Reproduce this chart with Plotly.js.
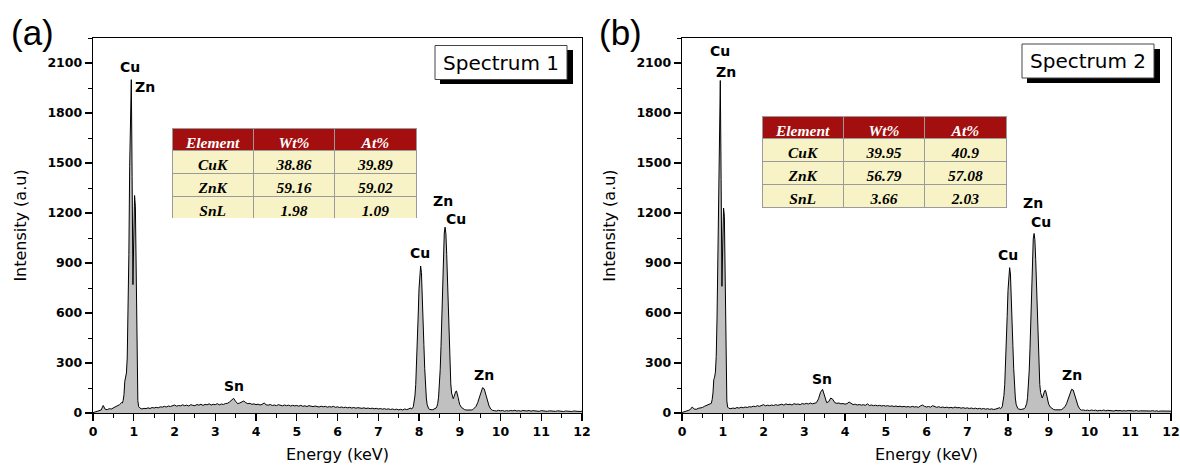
<!DOCTYPE html>
<html><head><meta charset="utf-8">
<script src="https://cdn.plot.ly/plotly-3.0.1.min.js"></script>
<style>html,body{margin:0;padding:0;background:#fff}#chart{width:1180px;height:468px}</style>
</head><body><div id="chart"></div>
<script>
// Energy channels (keV)
const energy = [
0,0.05,0.1,0.15,0.2,0.25,0.3,0.35,0.4,0.45,0.5,0.55,0.6,0.65,0.7,
0.72,0.74,0.76,0.78,0.8,0.82,0.84,0.86,0.88,0.9,0.92,0.94,0.96,0.98,1,1.02,1.04,1.06,1.08,1.1,1.12,
1.15,1.2,1.25,1.3,1.35,1.4,1.45,1.5,1.55,1.6,
1.65,1.7,1.75,1.8,1.85,1.9,1.95,2,2.05,2.1,
2.15,2.2,2.25,2.3,2.35,2.4,2.45,2.5,2.55,2.6,
2.65,2.7,2.75,2.8,2.85,2.9,2.95,3,3.05,3.1,
3.15,3.2,3.25,3.3,3.35,3.4,3.45,3.5,3.55,3.6,
3.65,3.7,3.75,3.8,3.85,3.9,3.95,4,4.05,4.1,
4.15,4.2,4.25,4.3,4.35,4.4,4.45,4.5,4.55,4.6,
4.65,4.7,4.75,4.8,4.85,4.9,4.95,5,5.05,5.1,
5.15,5.2,5.25,5.3,5.35,5.4,5.45,5.5,5.55,5.6,
5.65,5.7,5.75,5.8,5.85,5.9,5.95,6,6.05,6.1,
6.15,6.2,6.25,6.3,6.35,6.4,6.45,6.5,6.55,6.6,
6.65,6.7,6.75,6.8,6.85,6.9,6.95,7,7.05,7.1,
7.15,7.2,7.25,7.3,7.35,7.4,7.45,7.5,7.55,7.6,
7.65,7.7,7.75,7.8,
7.82,7.84,7.86,7.88,7.9,7.92,7.94,7.96,7.98,8,
8.02,8.04,8.06,8.08,8.1,8.12,8.14,8.16,8.18,8.2,
8.22,8.24,8.26,8.28,8.3,8.32,8.34,8.36,8.38,8.4,
8.42,8.44,8.46,8.48,8.5,8.52,8.54,8.56,8.58,8.6,
8.62,8.64,8.66,8.68,8.7,8.72,8.74,8.76,8.78,8.8,
8.82,8.84,8.86,8.88,8.9,8.92,8.94,8.96,8.98,9,
9.04,9.08,9.12,9.16,9.2,9.24,9.28,9.32,9.36,9.4,9.44,9.48,9.52,9.56,9.6,9.64,9.68,9.72,9.76,9.8,
9.85,9.9,9.95,
10,10.05,10.1,10.15,10.2,10.25,10.3,10.35,10.4,10.45,
10.5,10.55,10.6,10.65,10.7,10.75,10.8,10.85,10.9,10.95,
11,11.05,11.1,11.15,11.2,11.25,11.3,11.35,11.4,11.45,
11.5,11.55,11.6,11.65,11.7,11.75,11.8,11.85,11.9,11.95,
12
];

// Spectrum 1 intensities (a.u)
const spectrum1 = [
2,5,10,14,18,45,22,20,26,24,30,38,44,50,62,
60,75,110,190,212,240,330,560,950,1480,1880,2000,1420,770,1050,1305,1240,720,260,75,38,
30,24,28,26,31,27,33,30,34,31,
37,35,40,36,42,39,44,48,41,45,
43,49,44,47,42,50,46,44,51,47,
53,45,52,49,55,48,52,50,56,49,
54,51,57,58,66,80,88,70,56,60,
68,72,62,56,58,52,55,50,53,48,
52,60,49,47,51,45,48,44,50,46,
43,48,44,47,42,46,43,45,41,46,
40,43,39,44,40,38,42,39,36,41,
37,40,35,38,36,40,34,37,33,36,
32,35,31,34,30,33,29,32,30,28,
31,27,30,26,29,25,28,24,27,23,
26,22,25,21,24,20,23,19,22,18,
24,20,25,30,
24,28,38,60,102,172,280,423,588,745,
858,882,842,730,575,410,268,160,90,50,
32,25,22,20,21,19,20,22,22,24,
30,40,58,95,160,260,400,580,775,955,
1080,1115,1075,950,770,580,405,265,175,120,
92,86,98,118,129,132,118,94,70,50,
34,24,20,18,17,16,18,20,28,40,62,95,132,152,145,112,72,42,24,16,
14,12,16,
13,15,11,14,12,15,13,16,12,14,
11,15,13,12,15,11,14,12,13,10,
14,12,13,10,13,11,12,10,13,11,
12,9,12,10,11,9,12,10,11,9,
11
];

// Spectrum 2 intensities (a.u)
const spectrum2 = [
3,6,12,15,20,36,24,22,28,30,33,40,46,52,60,
58,80,120,200,215,245,340,570,960,1470,1870,1995,1400,760,1020,1230,1180,690,250,72,36,
28,26,30,27,33,29,35,31,36,33,
38,36,41,38,44,40,46,50,43,47,
44,48,45,50,46,49,53,47,55,50,
53,48,56,52,54,50,57,53,58,54,
60,55,58,62,85,125,142,95,62,68,
90,82,62,58,60,55,57,53,56,66,
55,50,53,48,51,47,50,46,55,45,
48,44,47,43,46,42,45,41,44,40,
43,39,42,38,41,37,40,36,39,35,
40,36,38,34,42,48,40,36,39,35,
44,37,34,38,33,36,32,35,31,34,
30,36,31,33,29,32,28,31,27,30,
26,29,25,28,24,27,23,26,22,25,
21,24,26,32,
26,30,40,62,104,172,278,418,580,736,
848,872,834,722,568,405,265,158,90,52,
34,27,24,22,23,21,22,23,24,26,
31,41,58,93,155,252,388,562,750,925,
1045,1077,1040,920,745,562,393,258,172,122,
96,90,102,122,134,136,122,97,72,52,
35,25,21,19,18,17,19,21,28,38,58,90,125,142,138,108,70,42,25,17,
18,15,17,
14,18,15,17,13,16,14,18,13,16,
14,15,12,16,13,15,12,14,12,15,
13,14,12,15,11,13,12,14,11,13,
12,14,11,13,10,12,11,13,10,12,
11
];

// Composition tables
const tableHeader = ['Element', 'Wt%', 'At%'];
const elements = ['CuK', 'ZnK', 'SnL'];
const wt1 = ['38.86', '59.16', '1.98'];
const at1 = ['39.89', '59.02', '1.09'];
const wt2 = ['39.95', '56.79', '3.66'];
const at2 = ['40.9', '57.08', '2.03'];

// Peak label texts
const peakNames1 = ['Cu', 'Zn', 'Sn', 'Cu', 'Zn', 'Cu', 'Zn'];
const peakNames2 = ['Cu', 'Zn', 'Sn', 'Cu', 'Zn', 'Cu', 'Zn'];
const yTicks = [0, 300, 600, 900, 1200, 1500, 1800, 2100];
const xTicks = [0,1,2,3,4,5,6,7,8,9,10,11,12];

// ---- label placement (annotation anchor points, keV / intensity) ----
const labelPos1 = [[0.9,2079],[1.28,1956],[3.45,165],[8.02,963],[8.59,1272],[8.92,1164],[9.6,228]];
const labelPos2 = [[0.93,2172],[1.09,2046],[3.44,204],[8.0,948],[8.61,1260],[8.81,1146],[9.57,231]];

const W = 1180, H = 468;
const M = {l:93, r:9, t:38, b:55};
const PW = W - M.l - M.r, PH = H - M.t - M.b;
const px = x => (x - M.l) / PW;
const py = y => (413 - y) / PH;

if (energy.length !== spectrum1.length || energy.length !== spectrum2.length) {
  console.error('length mismatch', energy.length, spectrum1.length, spectrum2.length);
}

const lineStyle = {color:'black', width:1};
const traces = [
  {x: energy, y: spectrum1, type:'scatter', mode:'lines', line: lineStyle,
   fill:'tozeroy', fillcolor:'#C0C0C0', xaxis:'x', yaxis:'y', hoverinfo:'skip', name:'Spectrum 1'},
  {x: energy, y: spectrum2, type:'scatter', mode:'lines', line: lineStyle,
   fill:'tozeroy', fillcolor:'#C0C0C0', xaxis:'x2', yaxis:'y2', hoverinfo:'skip', name:'Spectrum 2'}
];

const tblFont = (c) => ({family:'Liberation Serif', size:15.5, color:c, weight:'bold', style:'italic'});
function makeTable(domX, domY, wt, at) {
  return {
    type:'table', domain:{x:domX, y:domY}, columnwidth:[1,1,1],
    header:{values: tableHeader, align:'center', height:22,
      fill:{color:'#A30E0E'}, font: tblFont('white'), line:{color:'#9a9a9a', width:1}},
    cells:{values:[elements, wt, at], align:'center', height:23,
      fill:{color:'#F8F3C6'}, font: tblFont('black'), line:{color:'#9a9a9a', width:1}}
  };
}
traces.push(makeTable([px(172), px(416)], [py(218), py(128)], wt1, at1));
traces.push(makeTable([px(762), px(1006)], [py(208), py(116)], wt2, at2));

const tickFont = {family:'DejaVu Sans', size:12.5, color:'black', weight:'bold'};
const titleFont = {family:'DejaVu Sans', size:16, color:'black'};
function xAxis(dom) {
  return {domain: dom, range:[0,12], tickmode:'array', tickvals:xTicks, ticktext:xTicks.map(String),
    ticks:'outside', ticklen:7, tickwidth:1.2, tickcolor:'black',
    minor:{dtick:0.5, tick0:0, ticks:'outside', ticklen:4, tickwidth:1, tickcolor:'black'},
    showline:true, linecolor:'black', linewidth:1.3, mirror:true, showgrid:false, zeroline:false,
    tickfont: tickFont, fixedrange:true,
    title:{text:'Energy (keV)', font:titleFont, standoff:10}};
}
function yAxis(anchor) {
  return {domain:[0,1], range:[0,2250], anchor: anchor, tickmode:'array', tickvals:yTicks, ticktext:yTicks.map(String),
    ticks:'outside', ticklen:7, tickwidth:1.2, tickcolor:'black',
    minor:{dtick:150, tick0:0, ticks:'outside', ticklen:4, tickwidth:1, tickcolor:'black'},
    showline:true, linecolor:'black', linewidth:1.3, mirror:true, showgrid:false, zeroline:false,
    tickfont: tickFont, fixedrange:true,
    title:{text:'Intensity (a.u)', font:titleFont, standoff:16}};
}

const annotations = [];
const labFont = {family:'DejaVu Sans', size:14, color:'black', weight:'bold'};
peakNames1.forEach((t,i) => annotations.push({x:labelPos1[i][0], y:labelPos1[i][1], xref:'x', yref:'y', text:t, showarrow:false, font:labFont, xanchor:'center', yanchor:'middle'}));
peakNames2.forEach((t,i) => annotations.push({x:labelPos2[i][0], y:labelPos2[i][1], xref:'x2', yref:'y2', text:t, showarrow:false, font:labFont, xanchor:'center', yanchor:'middle'}));
function paperText(x, y, text, font) {
  annotations.push({x:px(x), y:py(y), xref:'paper', yref:'paper', text:text, showarrow:false,
    xanchor:'center', yanchor:'middle', font:font});
}
paperText(32, 33, '(a)', {family:'Liberation Sans', size:35, color:'black'});
paperText(620, 33, '(b)', {family:'Liberation Sans', size:35, color:'black'});
paperText(501, 63, 'Spectrum 1', {family:'DejaVu Sans', size:20, color:'black'});
paperText(1088, 61, 'Spectrum 2', {family:'DejaVu Sans', size:20, color:'black'});

function box(x0,y0,x1,y1,fill,lc,lw){
  return {type:'rect', xref:'paper', yref:'paper', x0:px(x0), x1:px(x1), y0:py(y1), y1:py(y0),
    fillcolor:fill, line:{color:lc, width:lw}, layer:'above'};
}
const shapes = [
  box(440,50,573,84,'black','black',0),
  box(435,45.5,567,79.5,'white','#444',1),
  box(1027,49,1160,83,'black','black',0),
  box(1022,44,1154,78,'white','#444',1)
];

const layout = {
  width:W, height:H, margin:M, paper_bgcolor:'white', plot_bgcolor:'white',
  showlegend:false, font:{family:'DejaVu Sans', color:'black'},
  xaxis: Object.assign(xAxis([0, px(582)]), {anchor:'y'}),
  yaxis: yAxis('x'),
  xaxis2: Object.assign(xAxis([px(682), 1]), {anchor:'y2'}),
  yaxis2: yAxis('x2'),
  annotations: annotations, shapes: shapes
};

Plotly.newPlot('chart', traces, layout, {displayModeBar:false, staticPlot:true});
</script>
</body></html>
